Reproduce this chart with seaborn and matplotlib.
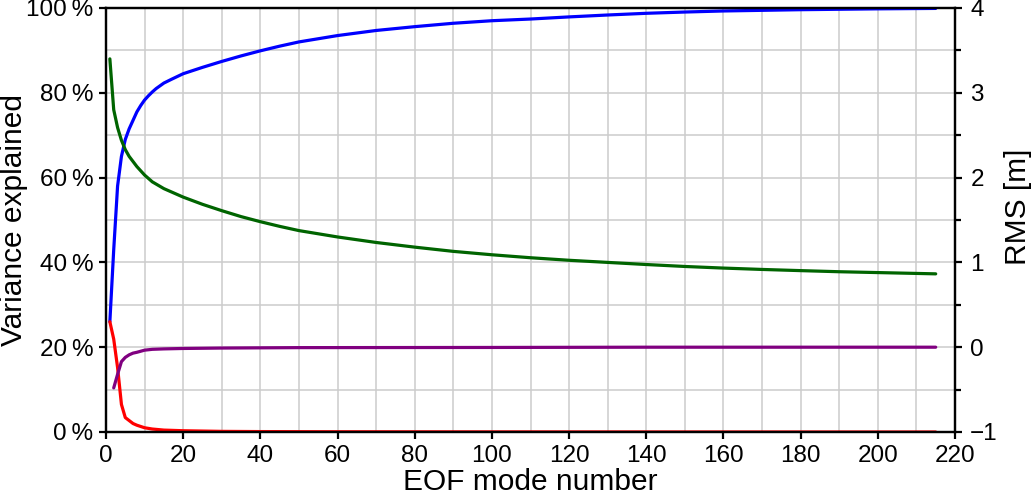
import matplotlib
matplotlib.use("Agg")
import matplotlib.pyplot as plt
import matplotlib.ticker as mticker
import seaborn as sns
import pandas as pd

# ---------------- data ----------------
cum_modes = [1, 2, 3, 4, 5, 6, 7, 8, 9, 10, 11, 12, 13, 15, 17, 20, 25, 30, 35, 40,
             45, 50, 60, 70, 80, 90, 100, 110, 120, 130, 140, 150, 160, 170, 180,
             190, 200, 215]
cum_var = [26.0, 43.0, 58.0, 65.0, 69.0, 71.5, 73.5, 75.5, 77.0, 78.3, 79.3, 80.2,
           81.0, 82.3, 83.2, 84.5, 86.0, 87.4, 88.7, 89.9, 91.0, 92.0, 93.5, 94.7,
           95.6, 96.4, 97.0, 97.4, 97.9, 98.35, 98.75, 99.05, 99.3, 99.45, 99.6,
           99.7, 99.8, 99.9]

var_modes = [1, 2, 3, 4, 5, 6, 7, 8, 10, 12, 15, 20, 30, 40, 60, 100, 150, 215]
mode_var = [26.0, 21.9, 15.2, 6.5, 3.4, 2.7, 2.0, 1.6, 1.0, 0.7, 0.45, 0.3, 0.15,
            0.1, 0.06, 0.03, 0.01, 0.0]

rms_modes = [1, 2, 3, 4, 5, 6, 7, 8, 9, 10, 12, 15, 20, 25, 30, 35, 40, 45, 50, 60,
             70, 80, 90, 100, 110, 120, 130, 140, 150, 160, 170, 180, 190, 200, 215]
rms_resid = [3.40, 2.80, 2.59, 2.44, 2.33, 2.25, 2.19, 2.13, 2.08, 2.03, 1.95, 1.87,
             1.77, 1.685, 1.61, 1.54, 1.48, 1.425, 1.375, 1.30, 1.235, 1.18, 1.13,
             1.09, 1.055, 1.025, 1.00, 0.975, 0.952, 0.933, 0.917, 0.903, 0.89,
             0.88, 0.865]

mean_modes = [2, 3, 4, 5, 6, 7, 8, 10, 12, 15, 20, 30, 50, 100, 140, 215]
mean_resid = [-0.48, -0.32, -0.17, -0.12, -0.09, -0.07, -0.06, -0.035, -0.025, -0.02,
              -0.015, -0.01, -0.005, -0.003, 0.0, 0.0]

x_ticks = [0, 20, 40, 60, 80, 100, 120, 140, 160, 180, 200, 220]
y_left_ticks = [0, 20, 40, 60, 80, 100]
y_right_ticks = [-1, 0, 1, 2, 3, 4]

# ---------------- style ----------------
sns.set_theme(style="white")
plt.rcParams['font.family'] = ['Liberation Sans', 'DejaVu Sans']
plt.rcParams['axes.unicode_minus'] = True
for k in ("text.color", "axes.labelcolor", "xtick.color", "ytick.color"):
    plt.rcParams[k] = "black"

fig = plt.figure(figsize=(10.33, 4.96), dpi=100)
ax = fig.add_axes([106 / 1033, 1 - 432 / 496, (955 - 106) / 1033, (432 - 8) / 496])
ax2 = ax.twinx()

LW = 2.3
df_cum = pd.DataFrame({"mode": cum_modes, "val": cum_var})
df_var = pd.DataFrame({"mode": var_modes, "val": mode_var})
df_rms = pd.DataFrame({"mode": rms_modes, "val": rms_resid})
df_mean = pd.DataFrame({"mode": mean_modes, "val": mean_resid})

sns.lineplot(data=df_cum, x="mode", y="val", ax=ax, color="#0000ff", linewidth=LW)
sns.lineplot(data=df_var, x="mode", y="val", ax=ax, color="#ff0000", linewidth=LW)
sns.lineplot(data=df_rms, x="mode", y="val", ax=ax2, color="#006400", linewidth=LW)
sns.lineplot(data=df_mean, x="mode", y="val", ax=ax2, color="#800080", linewidth=LW)

ax.set_xlim(0, 220)
ax.set_ylim(0, 100)
ax2.set_ylim(-1, 4)

ax.set_xticks(x_ticks)
ax.xaxis.set_minor_locator(mticker.MultipleLocator(10))
ax.set_yticks(y_left_ticks)
ax.set_yticklabels([f"{v}\u2009%" for v in y_left_ticks])
ax.yaxis.set_minor_locator(mticker.MultipleLocator(10))
ax2.set_yticks(y_right_ticks)
ax2.yaxis.set_minor_locator(mticker.MultipleLocator(0.5))

ax.grid(True, which="both", color="#cccccc", linewidth=1.1)
ax.set_axisbelow(True)

FS_T = 17.5
FS_L = 21.5
ax.tick_params(axis="both", which="major", direction="out", length=5, width=1.6,
               labelsize=FS_T, color="black", labelcolor="black", pad=4,
               left=True, bottom=True)
ax.tick_params(axis="both", which="minor", length=0)
ax2.tick_params(axis="y", which="major", direction="out", length=5, width=1.6,
                labelsize=FS_T, color="black", labelcolor="black", pad=6, right=True)
ax2.tick_params(axis="y", which="minor", direction="out", length=4, width=1.6,
                color="black", right=True)

for a in (ax, ax2):
    for s in a.spines.values():
        s.set_visible(True)
        s.set_color("black")
        s.set_linewidth(1.6)

ax.set_xlabel("EOF mode number", fontsize=FS_L, labelpad=1, color="black")
ax.set_ylabel("Variance explained", fontsize=FS_L, color="black")
ax2.set_ylabel("RMS [m]", fontsize=FS_L, color="black")
ax.yaxis.set_label_coords((28 - 106) / 849, 0.5)
ax2.yaxis.set_label_coords((1004 - 106) / 849, 0.53)

fig.savefig("out.png", dpi=100)
